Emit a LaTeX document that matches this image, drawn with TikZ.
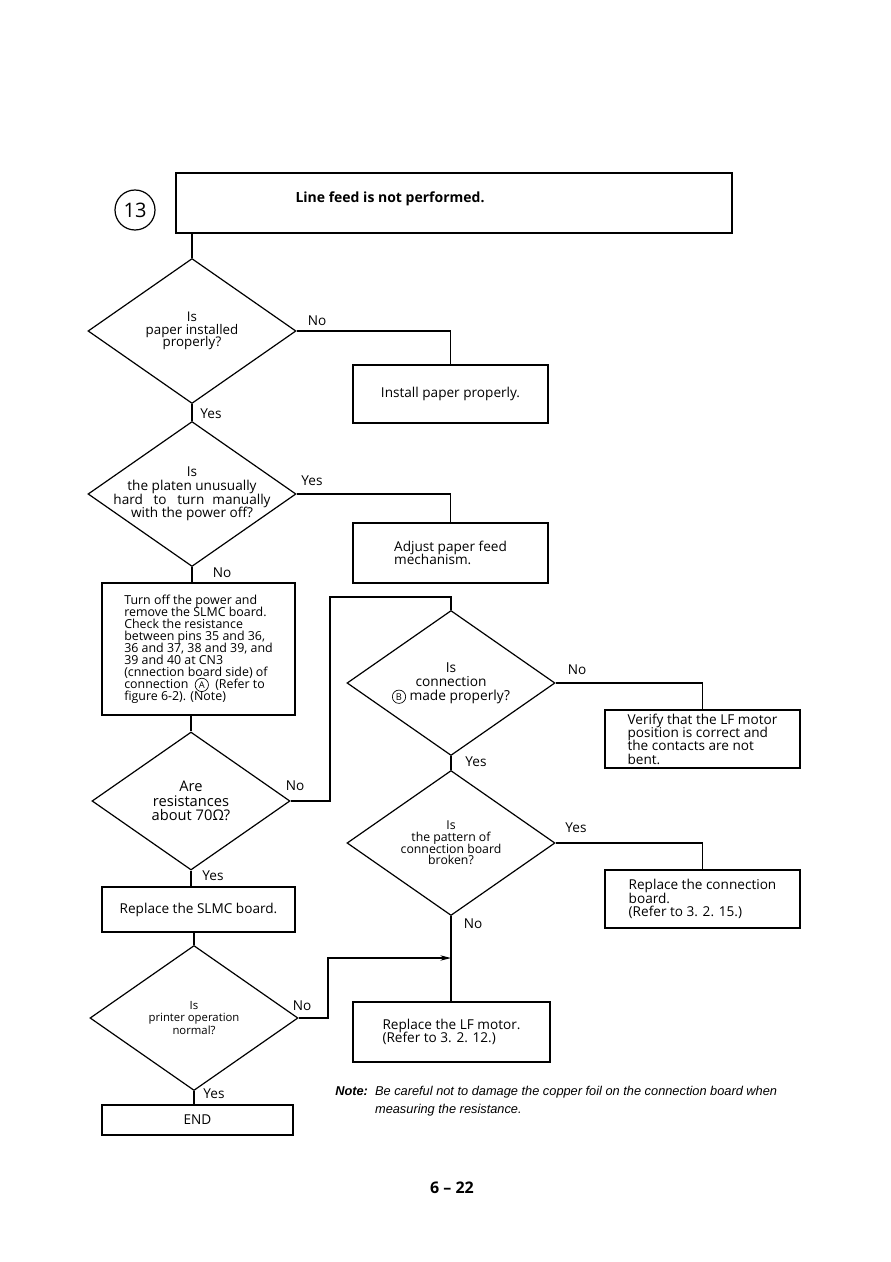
\documentclass[tikz,border=0pt]{standalone}
\usepackage{fontspec}
\setmainfont{Open Sans}
\newfontfamily\notefont{Liberation Sans}
\usetikzlibrary{shapes.geometric,arrows.meta}
\setlength{\lineskiplimit}{-6pt}
\newcommand{\circletter}[1]{\tikz[baseline=(cl.base)] \node[draw, circle, line width=0.5pt, inner sep=0.4pt, minimum size=10pt, font=\fontsize{7}{7}\selectfont] (cl) {#1};}

\begin{document}
\begin{tikzpicture}[
			x=0.75pt, y=-0.75pt,
			every node/.style={font=\fontsize{10.2}{10}\selectfont},
			box/.style={draw, line width=1.1pt, rectangle, inner sep=2pt, align=left},
			decision/.style={draw, line width=0.9pt, diamond, shape aspect=1.45, inner sep=0pt, align=center, minimum width=156pt, minimum height=108.75pt},
			lbl/.style={inner sep=1pt},
			link/.style={line width=0.9pt}
			]
			\fill[white] (0,0) rectangle (891,1262);
			
			\node[circle, draw, line width=0.9pt, minimum size=30pt, inner sep=0pt, font=\fontsize{15}{15}\selectfont] (num) at (135,210) {13};
			\node[box, minimum width=417pt, minimum height=45pt] (title) at (454,203) {};
			\node[font=\fontsize{10.5}{11}\selectfont\bfseries] (titletext) at (390,199) {Line feed is not performed.};
			
			\node[decision, font=\fontsize{10}{9.6}\selectfont] (dPaper) at (192,331) {Is\\paper installed\\properly?};
			\node[decision, inner xsep=-22pt, inner ysep=-4pt, font=\fontsize{10.2}{10.2}\selectfont] (dPlaten) at (192,494) {Is\\the platen unusually\\hard\hspace{8pt}to\hspace{8pt}turn\hspace{6pt}manually\\with the power off?};
			\node[decision, minimum width=148.5pt, minimum height=103.5pt, font=\fontsize{11}{11}\selectfont] (dResist) at (191,801) {Are\\resistances\\about 70Ω?};
			\node[decision, font=\fontsize{10.3}{10.5}\selectfont] (dConn) at (451,683) {Is\\connection\\\circletter{B} made properly?};
			\node[decision, font=\fontsize{9.2}{8.8}\selectfont] (dPattern) at (451,843) {Is\\the pattern of\\connection board\\broken?};
			\node[decision, font=\fontsize{8.5}{9.4}\selectfont] (dPrinter) at (194,1018) {Is\\printer operation\\normal?};
			
			\node[box, minimum width=146.25pt, minimum height=43.5pt] (bInstall) at (450.5,394) {Install paper properly.};
			\node[box, minimum width=146.25pt, minimum height=45pt] (bAdjust) at (450.5,553) {Adjust paper feed\\mechanism.};
			\node[box, minimum width=144.75pt, minimum height=99pt, font=\fontsize{9.3}{9}\selectfont] (bCheck) at (198.5,649) {Turn off the power and\\remove the SLMC board.\\Check the resistance\\between pins 35 and 36,\\36 and 37, 38 and 39, and\\39 and 40 at CN3\\(cnnection board side) of\\connection\ \ \circletter{A}\ \ (Refer to\\figure 6-2). (Note)};
			\node[box, minimum width=146.25pt, minimum height=43.5pt] (bVerify) at (702.5,739) {Verify that the LF motor\\position is correct and\\the contacts are not\\bent.};
			\node[box, minimum width=146.25pt, minimum height=43.5pt] (bReplConn) at (702.5,899) {Replace the connection\\board.\\(Refer to 3. 2. 15.)};
			\node[box, minimum width=144.75pt, minimum height=33.75pt] (bSlmc) at (198.5,909.5) {Replace the SLMC board.};
			\node[box, minimum width=147.75pt, minimum height=45pt] (bMotor) at (451.5,1032) {Replace the LF motor.\\(Refer to 3. 2. 12.)};
			\node[box, align=center, minimum width=143.25pt, minimum height=22.5pt] (bEnd) at (197.5,1120) {END};
			
			\coordinate (bendA) at (330,597);
			\coordinate (bendB) at (328,958);
			\draw[link] (dPaper.north |- title.south) -- (dPaper.north);
			\draw[link] (dPaper.east) -| (bInstall.north);
			\draw[link] (dPaper.south) -- (dPlaten.north);
			\draw[link] (dPlaten.east) -| (bAdjust.north);
			\draw[link] (dPlaten.south) -- (dPlaten.south |- bCheck.north);
			\draw[link] (dResist.north |- bCheck.south) -- (dResist.north);
			\draw[link] (dResist.east) -| (bendA) -| (dConn.north);
			\draw[link] (dConn.east) -| (bVerify.north);
			\draw[link] (dConn.south) -- (dPattern.north);
			\draw[link] (dPattern.east) -| (bReplConn.north);
			\draw[link] (dPattern.south) -- (dPattern.south |- bMotor.north);
			\draw[link] (dResist.south) -- (dResist.south |- bSlmc.north);
			\draw[link] (dPrinter.north |- bSlmc.south) -- (dPrinter.north);
			\draw[link, -{Stealth[length=8pt, width=4pt]}] (dPrinter.east) -| (bendB) -- (dPattern.south |- bendB);
			\draw[link] (dPrinter.south) -- (dPrinter.south |- bEnd.north);
			
			\node[lbl] (lNoA) at (317,321) {No};
			\node[lbl] (lYesA) at (211,414) {Yes};
			\node[lbl] (lYesB) at (312,481) {Yes};
			\node[lbl] (lNoB) at (222,573) {No};
			\node[lbl] (lNoC) at (295,786) {No};
			\node[lbl] (lYesC) at (213,876) {Yes};
			\node[lbl] (lNoD) at (577,670) {No};
			\node[lbl] (lYesD) at (476,762) {Yes};
			\node[lbl] (lYesE) at (576,828) {Yes};
			\node[lbl] (lNoE) at (473,924) {No};
			\node[lbl] (lNoF) at (302,1006) {No};
			\node[lbl] (lYesF) at (214,1094) {Yes};
			
			\node[anchor=north west, inner sep=0pt, font=\notefont\itshape\fontsize{9.6}{13.5}\selectfont] (note) at (335,1083) {\begin{tabular}{@{}l@{\ \ }l@{}}\textbf{Note:} & Be careful not to damage the copper foil on the connection board when\\ & measuring the resistance.\end{tabular}};
			\node[font=\fontsize{12}{12}\selectfont\bfseries] (page) at (452,1188) {6 -- 22};
		\end{tikzpicture}
\end{document}
